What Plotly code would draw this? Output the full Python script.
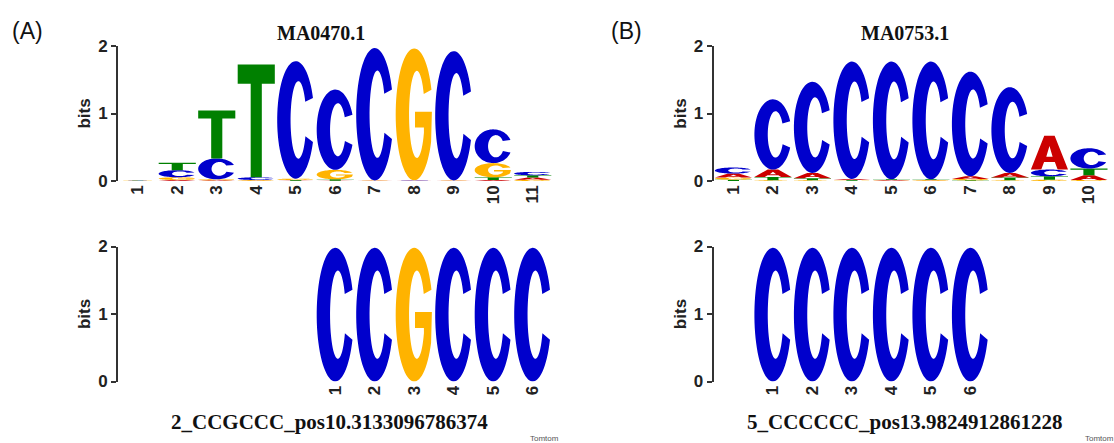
import numpy as np
import plotly.graph_objects as go

# ---------------- data ----------------
BASES = ["A", "C", "G", "T"]
COLORS = {"A": "#CC0000", "C": "#0000CC", "G": "#FFB300", "T": "#008000"}

# (A) MA0470.1 - information content (bits) per base per position
a_top_pos = [1, 2, 3, 4, 5, 6, 7, 8, 9, 10, 11]
a_top_A = [0.003, 0.015, 0.010, 0.005, 0.005, 0.005, 0.003, 0.003, 0.003, 0.015, 0.030]
a_top_C = [0.002, 0.105, 0.310, 0.040, 1.740, 1.190, 1.960, 0.003, 1.915, 0.500, 0.050]
a_top_G = [0.003, 0.040, 0.015, 0.010, 0.020, 0.140, 0.003, 1.955, 0.003, 0.210, 0.020]
a_top_T = [0.003, 0.110, 0.710, 1.670, 0.010, 0.020, 0.003, 0.003, 0.003, 0.040, 0.035]

# (A) query motif 2_CCGCCC
a_bot_pos = [1, 2, 3, 4, 5, 6]
a_bot_letters = ["C", "C", "G", "C", "C", "C"]
a_bot_bits = [1.98, 1.98, 1.98, 1.98, 1.98, 1.98]
a_offset = 5

# (B) MA0753.1
b_top_pos = [1, 2, 3, 4, 5, 6, 7, 8, 9, 10]
b_top_A = [0.060, 0.110, 0.080, 0.015, 0.010, 0.005, 0.040, 0.070, 0.500, 0.070]
b_top_C = [0.090, 1.040, 1.350, 1.740, 1.745, 1.745, 1.550, 1.270, 0.100, 0.300]
b_top_G = [0.030, 0.010, 0.010, 0.005, 0.005, 0.010, 0.020, 0.010, 0.020, 0.015]
b_top_T = [0.020, 0.050, 0.030, 0.010, 0.010, 0.010, 0.010, 0.040, 0.050, 0.100]

# (B) query motif 5_CCCCCC
b_bot_pos = [1, 2, 3, 4, 5, 6]
b_bot_letters = ["C", "C", "C", "C", "C", "C"]
b_bot_bits = [1.98, 1.98, 1.98, 1.98, 1.98, 1.98]
b_offset = 1

TITLE_A = "MA0470.1"
TITLE_B = "MA0753.1"
LABEL_A = "2_CCGCCC_pos10.3133096786374"
LABEL_B = "5_CCCCCC_pos13.9824912861228"

# ---------------- glyph outlines in unit box ----------------
def arc(cx, cy, rx, ry, a0, a1, n):
    t = np.radians(np.linspace(a0, a1, n))
    return list(zip(cx + rx * np.cos(t), cy + ry * np.sin(t)))


def glyph(letter):
    if letter == "C":
        outer = arc(0.5, 0.5, 0.5, 0.5, 22, 338, 70)
        inner = arc(0.57, 0.5, 0.21, 0.33, 335, 28, 50)
        return [outer + inner]
    if letter == "G":
        outer = arc(0.5, 0.5, 0.5, 0.5, 22, 335, 70)
        bar = [(0.975, 0.52), (0.52, 0.52), (0.52, 0.40), (0.76, 0.40)]
        inner = arc(0.57, 0.5, 0.21, 0.33, 335, 28, 50)
        return [outer + bar + inner]
    if letter == "T":
        return [[(0, 1), (1, 1), (1, 0.83), (0.65, 0.83), (0.65, 0), (0.35, 0),
                 (0.35, 0.83), (0, 0.83)]]
    # A
    outer = [(0, 0), (0.36, 1), (0.64, 1), (1, 0), (0.72, 0), (0.645, 0.22),
             (0.355, 0.22), (0.28, 0)]
    hole = [(0.415, 0.38), (0.5, 0.70), (0.585, 0.38)]
    return [outer, hole]


LETTER_W = 0.94


def letter_shape(letter, xc, y0, h, xref, yref):
    parts = []
    for poly in glyph(letter):
        pts = [(xc - LETTER_W / 2 + u * LETTER_W, y0 + v * h) for u, v in poly]
        s = "M " + " L ".join(f"{x:.5f},{y:.5f}" for x, y in pts) + " Z"
        parts.append(s)
    return dict(type="path", path=" ".join(parts), xref=xref, yref=yref,
                fillcolor=COLORS[letter], line=dict(width=0), layer="above",
                fillrule="evenodd")


def stack_shapes(pos, cols, xref, yref):
    shapes = []
    for i, p in enumerate(pos):
        heights = [(cols[b][i], b) for b in BASES]
        heights.sort()
        y = 0.0
        for h, b in heights:
            if h > 0:
                shapes.append(letter_shape(b, p, y, h, xref, yref))
            y += h
    return shapes


def single_shapes(pos, letters, bits, xref, yref):
    return [letter_shape(l, p, 0.0, h, xref, yref) for p, l, h in zip(pos, letters, bits)]


# ---------------- layout geometry ----------------
W, H = 1114, 443
def fx(px):
    return px / W
def fy(py):
    return 1 - py / H

STEP = 39.5
A_AXIS_PX = 118.0
B_AXIS_PX = 713.7
TOP_Y = (181.0, 46.0)
BOT_Y = (381.5, 246.5)

shapes = []
shapes += stack_shapes(a_top_pos, {"A": a_top_A, "C": a_top_C, "G": a_top_G, "T": a_top_T}, "x", "y")
shapes += single_shapes(a_bot_pos, a_bot_letters, a_bot_bits, "x2", "y2")
shapes += stack_shapes(b_top_pos, {"A": b_top_A, "C": b_top_C, "G": b_top_G, "T": b_top_T}, "x3", "y3")
shapes += single_shapes(b_bot_pos, b_bot_letters, b_bot_bits, "x4", "y4")

fig = go.Figure()
for i, pos in enumerate([a_top_pos, a_bot_pos, b_top_pos, b_bot_pos]):
    suf = "" if i == 0 else str(i + 1)
    fig.add_trace(go.Scatter(x=pos, y=[0] * len(pos), mode="markers",
                             marker=dict(opacity=0), hoverinfo="skip",
                             showlegend=False, xaxis="x" + suf, yaxis="y" + suf))

tick_font = dict(family="Liberation Sans, Arial, sans-serif", size=17, color="#222", weight="bold")
xt_font = dict(family="Liberation Sans, Arial, sans-serif", size=17, color="#222", weight="bold")


def yax(dom, anchor):
    return dict(domain=dom, anchor=anchor, range=[0, 2], tickvals=[0, 1, 2],
                ticks="outside", ticklen=5, tickwidth=2, tickcolor="#333",
                showline=True, linewidth=2, linecolor="#333", showgrid=False,
                zeroline=False, tickfont=tick_font, automargin=False,
                title=dict(text="bits", font=tick_font, standoff=3))


def xax(rng, dom, anchor, tv):
    return dict(domain=dom, anchor=anchor, range=rng, tickvals=tv, ticks="",
                showline=False, showgrid=False, zeroline=False, tickangle=-90,
                tickfont=xt_font, automargin=False)


n_a = len(a_top_pos)
n_b = len(b_top_pos)
a_dom = [fx(A_AXIS_PX), fx(A_AXIS_PX + n_a * STEP)]
b_dom = [fx(B_AXIS_PX), fx(B_AXIS_PX + n_b * STEP)]
top_dom = [fy(TOP_Y[0]), fy(TOP_Y[1])]
bot_dom = [fy(BOT_Y[0]), fy(BOT_Y[1])]

a_rng = [0.5, n_a + 0.5]
b_rng = [0.5, n_b + 0.5]

ann_font_serif = dict(family="Liberation Serif, Times New Roman, serif", color="#111", weight="bold")
annotations = [
    dict(text="(A)", x=fx(27.5), y=fy(31), font=dict(family="Liberation Sans, Arial", size=23, color="#111")),
    dict(text="(B)", x=fx(626.5), y=fy(31), font=dict(family="Liberation Sans, Arial", size=23, color="#111")),
    dict(text=TITLE_A, x=fx(321), y=fy(33), font=dict(size=20, **ann_font_serif)),
    dict(text=TITLE_B, x=fx(904.5), y=fy(33), font=dict(size=20, **ann_font_serif)),
    dict(text=LABEL_A, x=fx(329), y=fy(421.5), font=dict(size=21, **ann_font_serif)),
    dict(text=LABEL_B, x=fx(905), y=fy(421.5), font=dict(size=21, **ann_font_serif)),
    dict(text="Tomtom", x=fx(544), y=fy(438), font=dict(family="Liberation Sans, Arial", size=8, color="#555")),
    dict(text="Tomtom", x=fx(1099), y=fy(438), font=dict(family="Liberation Sans, Arial", size=8, color="#555")),
]
for a in annotations:
    a.update(xref="paper", yref="paper", showarrow=False, xanchor="center", yanchor="middle")

fig.update_layout(
    width=W, height=H, margin=dict(l=0, r=0, t=0, b=0),
    paper_bgcolor="white", plot_bgcolor="white", showlegend=False,
    xaxis=xax(a_rng, a_dom, "y", a_top_pos),
    yaxis=yax(top_dom, "x"),
    xaxis2=xax([r - a_offset for r in a_rng], a_dom, "y2", a_bot_pos),
    yaxis2=yax(bot_dom, "x2"),
    xaxis3=xax(b_rng, b_dom, "y3", b_top_pos),
    yaxis3=yax(top_dom, "x3"),
    xaxis4=xax([r - b_offset for r in b_rng], b_dom, "y4", b_bot_pos),
    yaxis4=yax(bot_dom, "x4"),
    shapes=shapes, annotations=annotations,
)

fig.write_html("out.html")
